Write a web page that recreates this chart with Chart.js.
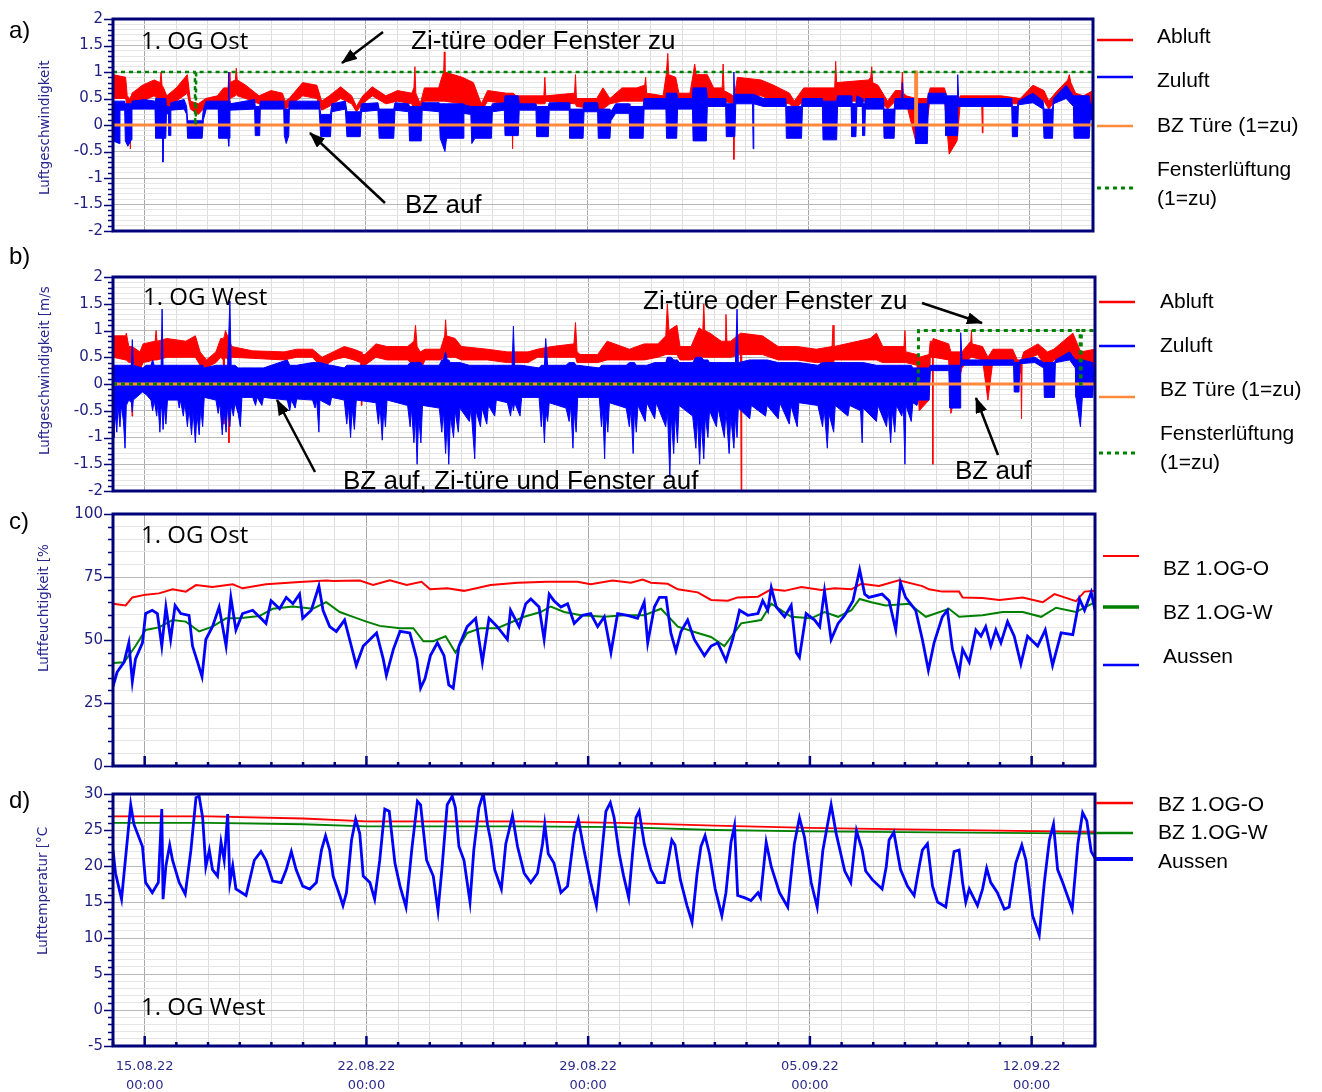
<!DOCTYPE html>
<html lang="de">
<head>
<meta charset="utf-8">
<title>Luftgeschwindigkeit, Luftfeuchtigkeit, Lufttemperatur</title>
<script src="https://cdn.jsdelivr.net/npm/chart.js"></script>
<style>
  html, body { margin: 0; padding: 0; background: #fff; }
  body { position: relative; width: 1322px; height: 1092px; overflow: hidden; font-family: "Liberation Sans", Arial, sans-serif; color: #000; }
  canvas { position: absolute; left: 0; z-index: 1; }
  #overlay { position: absolute; left: 0; top: 0; z-index: 2; }
  .t { position: absolute; white-space: nowrap; z-index: 3; }
  .panel { font-size: 24px; line-height: 28px; }
  .note { font-size: 26px; line-height: 30px; }
  .og { font-family: "Open Sans", sans-serif; font-size: 24px; line-height: 30px; }
  .leg { font-size: 21px; line-height: 24px; }
  .ytitle { font-family: "DejaVu Sans", sans-serif; font-size: 13.5px; line-height: 16px; color: #26268f; transform: rotate(-90deg); transform-origin: 0 0; }
</style>
</head>
<body>
<canvas id="chartA" width="1322" height="250" style="top:0px"></canvas>
<canvas id="chartB" width="1322" height="255" style="top:255px"></canvas>
<canvas id="chartC" width="1322" height="290" style="top:495px"></canvas>
<canvas id="chartD" width="1322" height="317" style="top:775px"></canvas>

<svg id="overlay" width="1322" height="1092">
  <defs>
    <marker id="head" markerUnits="userSpaceOnUse" markerWidth="16" markerHeight="12" refX="15" refY="6" orient="auto">
      <path d="M0,0 L16,6 L0,12 z" fill="#000"/>
    </marker>
  </defs>
  <g stroke="#000" stroke-width="2.5" marker-end="url(#head)">
    <line x1="383" y1="32" x2="342" y2="63"/>
    <line x1="385" y1="203" x2="310" y2="133"/>
    <line x1="922" y1="303" x2="982" y2="323"/>
    <line x1="315" y1="472" x2="277" y2="400"/>
    <line x1="998" y1="455" x2="976" y2="398"/>
  </g>
  <!-- legend samples -->
  <g stroke-width="2.5">
    <line x1="1097" y1="40" x2="1133" y2="40" stroke="#ff0000"/>
    <line x1="1097" y1="77" x2="1133" y2="77" stroke="#0000ff"/>
    <line x1="1097" y1="126" x2="1133" y2="126" stroke="#ff8a3c"/>
    <line x1="1097" y1="188" x2="1133" y2="188" stroke="#008000" stroke-width="3" stroke-dasharray="4 4"/>
    <line x1="1099" y1="302" x2="1135" y2="302" stroke="#ff0000"/>
    <line x1="1099" y1="346" x2="1135" y2="346" stroke="#0000ff"/>
    <line x1="1099" y1="397" x2="1135" y2="397" stroke="#ff8a3c"/>
    <line x1="1099" y1="453" x2="1135" y2="453" stroke="#008000" stroke-width="3" stroke-dasharray="4 4"/>
    <line x1="1103" y1="556" x2="1139" y2="556" stroke="#ff0000" stroke-width="2"/>
    <line x1="1103" y1="607" x2="1139" y2="607" stroke="#008000" stroke-width="3.5"/>
    <line x1="1103" y1="665" x2="1139" y2="665" stroke="#0000ff"/>
    <line x1="1096" y1="803" x2="1133" y2="803" stroke="#ff0000"/>
    <line x1="1096" y1="833" x2="1133" y2="833" stroke="#008000"/>
    <line x1="1096" y1="859" x2="1133" y2="859" stroke="#0000ff" stroke-width="4"/>
  </g>
</svg>

<div class="t panel" style="left:9px;top:16px">a)</div>
<div class="t panel" style="left:9px;top:242px">b)</div>
<div class="t panel" style="left:9px;top:507px">c)</div>
<div class="t panel" style="left:9px;top:786px">d)</div>

<div class="t ytitle" style="left:36px;top:195px">Luftgeschwindigkeit</div>
<div class="t ytitle" style="left:36px;top:455px">Luftgeschwindigkeit [m/s</div>
<div class="t ytitle" style="left:35px;top:672px">Luftfeuchtigkeit [%</div>
<div class="t ytitle" style="left:34px;top:955px">Lufttemperatur [°C</div>

<div class="t og" style="left:141px;top:25px">1. OG Ost</div>
<div class="t og" style="left:143px;top:281px">1. OG West</div>
<div class="t og" style="left:141px;top:519px">1. OG Ost</div>
<div class="t og" style="left:141px;top:991px">1. OG West</div>

<div class="t note" style="left:411px;top:25px">Zi-türe oder Fenster zu</div>
<div class="t note" style="left:405px;top:189px">BZ auf</div>
<div class="t note" style="left:643px;top:285px">Zi-türe oder Fenster zu</div>
<div class="t note" style="left:343px;top:465px">BZ auf, Zi-türe und Fenster auf</div>
<div class="t note" style="left:955px;top:455px">BZ auf</div>

<div class="t leg" style="left:1157px;top:24px">Abluft</div>
<div class="t leg" style="left:1157px;top:68px">Zuluft</div>
<div class="t leg" style="left:1157px;top:113px">BZ Türe (1=zu)</div>
<div class="t leg" style="left:1157px;top:157px">Fensterlüftung</div>
<div class="t leg" style="left:1157px;top:186px">(1=zu)</div>

<div class="t leg" style="left:1160px;top:289px">Abluft</div>
<div class="t leg" style="left:1160px;top:333px">Zuluft</div>
<div class="t leg" style="left:1160px;top:377px">BZ Türe (1=zu)</div>
<div class="t leg" style="left:1160px;top:421px">Fensterlüftung</div>
<div class="t leg" style="left:1160px;top:450px">(1=zu)</div>

<div class="t leg" style="left:1163px;top:556px">BZ 1.OG-O</div>
<div class="t leg" style="left:1163px;top:600px">BZ 1.OG-W</div>
<div class="t leg" style="left:1163px;top:644px">Aussen</div>

<div class="t leg" style="left:1158px;top:792px">BZ 1.OG-O</div>
<div class="t leg" style="left:1158px;top:820px">BZ 1.OG-W</div>
<div class="t leg" style="left:1158px;top:849px">Aussen</div>

<script>
// x axis = days since 14.08.22 00:00
const weekTicks = [1, 8, 15, 22, 29];
const weekLabels = ['15.08.22', '22.08.22', '29.08.22', '05.09.22', '12.09.22'];
const hourLabel = '00:00';

// a) 1. OG Ost, air speed bands [day, max, min] in m/s
const abluftA = [[0.00,0.95,0.50],[0.40,0.90,0.50],[0.45,0.55,0.35],[0.53,0.50,0.30],[0.55,0.50,-0.45],[0.57,0.55,0.30],[0.60,0.60,0.35],[0.93,0.75,0.45],[1.30,0.85,0.55],[1.49,0.80,0.45],[1.52,1.00,0.45],[1.55,0.75,0.40],[1.60,0.70,0.30],[1.70,0.55,0.30],[2.00,0.70,0.45],[2.35,0.95,0.60],[2.45,0.45,0.30],[2.70,0.40,0.20],[2.93,0.50,0.35],[3.30,0.55,0.40],[3.50,0.70,0.40],[3.64,0.70,0.40],[3.67,1.00,0.40],[3.70,0.80,0.50],[3.87,0.85,0.55],[3.90,1.07,0.60],[3.93,0.85,0.55],[4.20,0.75,0.50],[4.62,0.55,0.40],[5.00,0.65,0.45],[5.36,0.60,0.42],[5.45,0.45,0.30],[5.57,0.50,0.35],[6.00,0.80,0.55],[6.45,0.75,0.50],[6.60,0.45,0.28],[6.84,0.55,0.35],[7.20,0.72,0.50],[7.55,0.55,0.40],[7.70,0.35,0.25],[7.90,0.55,0.40],[8.20,0.72,0.55],[8.63,0.55,0.40],[9.00,0.65,0.45],[9.45,0.60,0.40],[9.52,0.70,0.30],[9.55,1.10,0.30],[9.58,0.60,0.25],[9.72,0.40,0.20],[9.85,0.70,0.45],[10.30,0.70,0.45],[10.40,0.90,0.45],[10.46,1.00,0.45],[10.48,1.38,0.45],[10.50,1.00,0.45],[11.05,0.90,0.40],[11.40,0.80,0.30],[11.65,0.40,0.25],[11.85,0.65,0.45],[12.45,0.60,0.40],[12.62,0.60,0.35],[12.64,0.60,-0.45],[12.66,0.60,0.35],[12.75,0.55,0.40],[13.63,0.55,0.40],[13.66,0.90,0.40],[13.69,0.55,0.45],[14.60,0.60,0.40],[14.63,0.95,0.40],[14.66,0.50,0.35],[15.30,0.50,0.30],[15.50,0.70,0.30],[15.72,0.50,0.40],[16.10,0.70,0.45],[16.56,0.70,0.45],[16.82,0.75,0.45],[16.85,0.90,0.45],[16.88,0.60,0.45],[17.40,0.55,0.45],[17.50,0.95,0.45],[17.55,1.35,0.45],[17.58,0.95,0.45],[17.80,0.90,0.45],[17.90,0.60,0.45],[18.25,0.60,0.45],[18.35,0.95,0.50],[18.40,1.15,0.50],[18.45,0.95,0.50],[18.80,0.95,0.50],[19.00,0.70,0.50],[19.27,0.70,0.45],[19.30,1.15,0.45],[19.33,0.65,0.45],[19.62,0.55,0.40],[19.64,0.55,-0.65],[19.66,0.55,0.40],[19.75,0.90,0.55],[20.50,0.85,0.55],[20.90,0.75,0.45],[21.40,0.60,0.40],[21.55,0.45,0.30],[21.85,0.70,0.45],[22.83,0.70,0.45],[22.86,1.20,0.45],[22.89,0.80,0.45],[23.90,0.85,0.45],[23.97,0.90,0.50],[24.00,1.10,0.50],[24.03,0.80,0.50],[24.20,0.75,0.50],[24.50,0.45,0.30],[24.75,0.65,0.45],[24.94,0.65,0.45],[24.97,1.00,0.45],[25.00,0.60,0.40],[25.10,0.55,0.40],[25.39,0.50,-0.30],[25.76,0.50,0.10],[25.85,0.70,0.50],[26.30,0.70,0.50],[26.45,0.40,-0.55],[26.70,0.40,-0.30],[26.80,0.55,0.40],[27.48,0.55,0.40],[27.50,0.55,-0.15],[27.52,0.55,0.40],[28.10,0.55,0.40],[28.70,0.50,0.40],[29.10,0.75,0.50],[29.45,0.65,0.45],[29.60,0.45,0.30],[29.80,0.60,0.45],[30.20,0.85,0.55],[30.25,0.95,0.55],[30.30,0.80,0.55],[30.45,0.60,0.30],[30.70,0.55,0.20],[31.00,0.65,0.45]];
const zuluftA = [[0.00,0.45,-0.30],[0.20,0.45,-0.35],[0.22,0.45,0.28],[0.37,0.45,0.28],[0.39,0.40,-0.30],[0.47,0.40,-0.40],[0.58,0.40,-0.28],[0.60,0.45,0.30],[1.00,0.48,0.30],[1.33,0.45,0.30],[1.35,0.50,-0.25],[1.57,0.50,-0.25],[1.58,0.50,-0.70],[1.60,0.50,-0.25],[1.67,0.50,-0.25],[1.69,0.35,0.22],[1.76,0.35,0.20],[1.77,0.35,-0.20],[1.82,0.35,-0.20],[1.83,0.42,0.28],[2.25,0.48,0.30],[2.33,0.35,0.20],[2.36,0.08,-0.25],[2.82,0.08,-0.25],[2.86,0.30,0.10],[2.95,0.45,0.30],[3.33,0.45,0.30],[3.35,0.45,-0.25],[3.64,0.45,-0.25],[3.66,1.00,-0.40],[3.67,0.45,-0.25],[3.70,0.40,0.28],[4.48,0.48,0.30],[4.50,0.35,-0.20],[4.64,0.35,-0.20],[4.66,0.45,0.30],[5.40,0.45,0.30],[5.42,0.30,-0.20],[5.48,0.30,-0.35],[5.56,0.30,-0.20],[5.58,0.45,0.30],[6.52,0.45,0.30],[6.57,0.20,-0.22],[6.88,0.20,-0.22],[6.92,0.40,0.25],[7.35,0.45,0.30],[7.40,0.25,-0.22],[7.82,0.25,-0.22],[7.86,0.40,0.25],[8.38,0.42,0.28],[8.42,0.30,-0.25],[8.88,0.30,-0.25],[8.92,0.42,0.28],[9.35,0.40,0.25],[9.38,0.35,-0.30],[9.75,0.35,-0.30],[9.78,0.42,0.28],[10.32,0.42,0.25],[10.35,0.40,-0.25],[10.50,0.40,-0.50],[10.55,0.40,-0.25],[11.08,0.40,-0.25],[11.10,0.38,0.22],[11.32,0.35,0.20],[11.35,0.35,-0.35],[11.45,0.35,-0.25],[11.97,0.35,-0.25],[12.00,0.40,0.25],[12.38,0.42,0.28],[12.40,0.55,-0.20],[12.82,0.55,-0.20],[12.85,0.40,0.28],[13.38,0.40,0.28],[13.40,0.35,-0.22],[13.77,0.35,-0.22],[13.80,0.42,0.28],[14.43,0.42,0.28],[14.45,0.30,-0.25],[14.87,0.30,-0.25],[14.90,0.42,0.25],[15.33,0.42,0.25],[15.35,0.30,-0.25],[15.72,0.30,-0.25],[15.75,0.25,0.08],[15.90,0.40,0.22],[16.33,0.40,0.22],[16.35,0.35,-0.25],[16.77,0.35,-0.25],[16.80,0.50,0.30],[17.49,0.50,0.30],[17.51,0.60,-0.25],[17.83,0.60,-0.25],[17.86,0.50,0.30],[18.33,0.50,0.30],[18.35,0.70,-0.30],[18.77,0.70,-0.30],[18.80,0.50,0.35],[19.38,0.50,0.35],[19.40,0.40,-0.22],[19.62,0.40,-0.22],[19.64,1.00,-0.22],[19.67,0.40,-0.22],[19.70,0.58,0.40],[20.23,0.58,0.40],[20.25,0.58,-0.45],[20.27,0.58,0.40],[20.57,0.50,0.35],[21.28,0.50,0.35],[21.30,0.35,-0.25],[21.78,0.35,-0.25],[21.81,0.50,0.35],[22.44,0.50,0.35],[22.46,0.45,-0.28],[22.89,0.45,-0.28],[22.92,0.55,0.35],[23.35,0.55,0.35],[23.37,0.40,-0.22],[23.50,0.40,-0.22],[23.53,0.55,0.35],[23.70,0.50,0.35],[23.72,0.40,-0.20],[23.78,0.40,-0.20],[23.80,0.50,0.30],[24.37,0.50,0.30],[24.39,0.30,-0.25],[24.71,0.30,-0.25],[24.74,0.50,0.30],[24.95,0.50,0.30],[24.97,0.80,0.30],[24.99,0.50,0.30],[25.37,0.50,0.30],[25.39,0.40,-0.35],[25.76,0.40,-0.35],[25.79,0.60,0.40],[26.32,0.60,0.40],[26.34,0.55,-0.20],[26.70,0.55,-0.20],[26.72,0.95,0.35],[26.75,0.50,0.35],[28.43,0.50,0.35],[28.45,0.35,-0.22],[28.61,0.35,-0.22],[28.64,0.45,0.38],[29.10,0.60,0.42],[29.42,0.45,0.30],[29.45,0.30,-0.25],[29.72,0.30,-0.25],[29.75,0.50,0.40],[30.15,0.75,0.50],[30.38,0.55,0.35],[30.40,0.55,-0.25],[30.88,0.55,-0.25],[30.91,0.40,0.10],[31.00,0.40,0.10]];
const tuerA = [[0,0],[25.38,0],[25.39,1],[25.41,1],[25.42,0],[31,0]];
const fensterA = [[0,1],[2.59,1],[2.60,0],[2.62,0],[2.63,1],[31,1]];

// b) 1. OG West
const abluftB = [[0.00,0.90,0.50],[0.40,0.90,0.45],[0.42,0.95,0.45],[0.50,0.70,0.40],[0.58,0.70,0.40],[0.60,0.70,-0.60],[0.62,0.70,0.40],[0.85,0.60,0.25],[0.95,0.75,0.40],[1.33,0.80,0.45],[1.36,1.00,0.45],[1.39,0.80,0.45],[1.70,0.85,0.50],[2.30,0.80,0.50],[2.60,0.90,0.50],[2.75,0.60,0.35],[2.95,0.45,0.30],[3.25,0.60,0.40],[3.40,0.85,0.50],[3.48,0.85,0.45],[3.50,0.85,-0.75],[3.52,0.90,0.45],[3.55,1.00,0.50],[3.64,0.85,0.45],[3.66,0.85,-1.10],[3.68,0.80,0.45],[3.75,0.70,0.50],[4.40,0.62,0.48],[5.40,0.60,0.45],[5.80,0.65,0.50],[6.30,0.65,0.50],[6.60,0.50,0.30],[6.95,0.60,0.45],[7.30,0.70,0.50],[7.60,0.65,0.45],[7.82,0.60,0.40],[7.84,0.60,-0.40],[7.86,0.55,0.35],[7.95,0.55,0.35],[8.30,0.75,0.50],[8.65,0.70,0.45],[9.30,0.70,0.45],[9.50,0.80,0.35],[9.55,1.10,0.30],[9.60,0.70,0.20],[9.70,0.60,0.25],[9.85,0.65,0.45],[10.34,0.65,0.45],[10.47,0.90,0.50],[10.50,1.20,0.50],[10.53,0.90,0.50],[10.80,0.85,0.50],[11.00,0.70,0.45],[11.82,0.65,0.45],[12.45,0.60,0.40],[13.10,0.60,0.40],[13.40,0.65,0.50],[13.85,0.70,0.50],[14.55,0.75,0.50],[14.60,1.15,0.50],[14.65,0.60,0.40],[14.75,0.55,0.40],[15.30,0.55,0.40],[15.60,0.80,0.45],[16.30,0.65,0.45],[16.77,0.75,0.45],[17.20,0.75,0.50],[17.45,0.90,0.55],[17.50,1.50,0.55],[17.55,1.00,0.55],[17.80,1.10,0.55],[17.90,0.70,0.45],[18.25,0.70,0.45],[18.50,1.05,0.50],[18.62,1.00,0.50],[18.65,1.50,0.50],[18.68,1.00,0.50],[18.85,0.95,0.50],[19.20,0.80,0.50],[19.32,0.80,0.50],[19.35,1.30,0.50],[19.38,0.80,0.50],[19.50,0.80,0.50],[19.81,0.95,0.55],[19.83,0.95,-2.00],[19.85,0.95,0.55],[20.50,0.90,0.55],[21.00,0.70,0.45],[21.60,0.70,0.45],[22.20,0.65,0.40],[22.70,0.70,0.40],[22.73,1.10,0.40],[22.76,0.70,0.45],[23.90,0.85,0.45],[24.10,0.95,0.45],[24.30,0.70,0.40],[24.97,0.70,0.40],[25.00,1.00,0.40],[25.03,0.60,0.40],[25.38,0.55,0.35],[25.45,0.50,-0.50],[25.76,0.55,-0.30],[25.80,0.80,0.50],[25.87,0.80,0.50],[25.88,0.80,-1.50],[25.89,0.85,0.50],[26.38,0.75,0.45],[26.45,0.60,-0.55],[26.80,0.60,0.30],[27.08,0.80,0.50],[27.10,1.00,0.50],[27.12,0.75,0.50],[27.45,0.70,0.45],[27.62,0.50,-0.30],[27.78,0.65,0.45],[28.40,0.65,0.45],[28.55,0.45,0.20],[28.66,0.45,0.20],[28.68,0.45,-0.65],[28.70,0.50,0.40],[28.75,0.60,0.45],[29.20,0.75,0.55],[29.50,0.60,0.25],[29.70,0.65,0.45],[30.30,0.95,0.55],[30.55,0.60,0.20],[31.00,0.65,0.30]];
const zuluftB = [[0.00,0.35,-0.60],[0.03,0.35,-1.00],[0.06,0.35,-0.50],[0.12,0.35,-0.90],[0.16,0.35,-0.40],[0.22,0.35,-0.80],[0.26,0.35,-0.40],[0.33,0.35,-0.70],[0.38,0.35,-1.20],[0.42,0.35,-0.40],[0.50,0.35,-0.30],[0.58,0.35,-0.35],[0.61,0.83,-0.52],[0.64,0.35,-0.30],[0.93,0.30,-0.15],[1.05,0.35,-0.20],[1.20,0.35,-0.30],[1.25,0.45,-0.50],[1.30,0.35,-0.30],[1.38,0.35,-0.60],[1.42,0.35,-0.35],[1.48,0.35,-0.90],[1.52,0.35,-0.40],[1.55,1.40,-0.50],[1.58,0.35,-0.85],[1.63,0.35,-0.40],[1.67,0.35,-0.75],[1.72,0.35,-0.30],[2.05,0.35,-0.30],[2.09,0.35,-0.45],[2.13,0.35,-0.30],[2.22,0.35,-0.60],[2.27,0.35,-0.35],[2.35,0.35,-0.80],[2.40,0.35,-0.45],[2.48,0.35,-0.95],[2.53,0.35,-0.50],[2.60,0.35,-1.10],[2.65,0.35,-0.55],[2.72,0.35,-0.95],[2.77,0.35,-0.45],[2.83,0.35,-0.80],[2.88,0.30,-0.25],[3.25,0.35,-0.30],[3.32,0.35,-0.55],[3.37,0.35,-0.35],[3.45,0.35,-0.95],[3.50,0.35,-0.45],[3.57,0.35,-0.90],[3.62,0.35,-0.40],[3.69,1.55,-0.80],[3.73,0.35,-0.40],[3.80,0.35,-0.60],[3.85,0.35,-0.35],[3.95,0.30,-0.55],[4.02,0.30,-0.80],[4.07,0.30,-0.25],[4.41,0.30,-0.25],[4.50,0.30,-0.40],[4.55,0.30,-0.25],[4.70,0.30,-0.40],[4.75,0.30,-0.25],[5.50,0.45,-0.30],[5.58,0.35,-0.50],[5.63,0.35,-0.30],[5.75,0.35,-0.45],[5.80,0.35,-0.28],[6.30,0.40,-0.30],[6.38,0.40,-0.45],[6.43,0.40,-0.30],[6.50,0.40,-0.90],[6.53,0.40,-0.30],[6.85,0.35,-0.40],[6.90,0.35,-0.25],[7.30,0.30,-0.30],[7.38,0.35,-0.75],[7.43,0.35,-0.40],[7.50,0.35,-1.00],[7.55,0.35,-0.45],[7.62,0.35,-0.85],[7.68,0.35,-0.30],[8.30,0.35,-0.35],[8.38,0.35,-0.75],[8.43,0.35,-0.40],[8.50,0.35,-1.05],[8.55,0.35,-0.45],[8.60,0.35,-0.80],[8.65,0.35,-0.30],[9.30,0.35,-0.40],[9.38,0.40,-0.80],[9.42,0.40,-0.45],[9.50,0.40,-1.10],[9.55,0.40,-0.60],[9.60,0.40,-1.50],[9.65,0.40,-0.60],[9.72,0.40,-1.10],[9.77,0.35,-0.40],[10.30,0.35,-0.45],[10.38,0.45,-0.90],[10.43,0.45,-0.50],[10.50,0.60,-1.30],[10.55,0.45,-0.70],[10.60,0.45,-1.50],[10.65,0.40,-0.60],[10.75,0.40,-1.00],[10.80,0.40,-0.50],[10.90,0.40,-0.90],[10.95,0.40,-0.45],[11.25,0.35,-0.70],[11.30,0.35,-0.45],[11.42,0.35,-1.40],[11.46,0.35,-0.50],[11.60,0.35,-0.80],[11.65,0.35,-0.45],[11.80,0.35,-0.75],[11.85,0.35,-0.40],[12.05,0.35,-0.60],[12.10,0.35,-0.30],[12.45,0.35,-0.35],[12.55,0.35,-0.60],[12.60,0.35,-0.35],[12.64,1.08,-0.50],[12.68,0.35,-0.35],[12.85,0.35,-0.60],[12.90,0.35,-0.25],[13.45,0.30,-0.25],[13.52,0.35,-0.80],[13.56,0.35,-0.40],[13.62,0.35,-1.10],[13.66,0.85,-0.50],[13.72,0.35,-0.70],[13.77,0.35,-0.35],[14.30,0.35,-0.45],[14.40,0.40,-0.70],[14.45,0.40,-0.40],[14.52,0.40,-1.20],[14.56,0.40,-0.50],[14.62,0.35,-0.90],[14.67,0.35,-0.25],[15.35,0.30,-0.25],[15.42,0.35,-0.80],[15.46,0.35,-0.45],[15.52,0.35,-1.40],[15.56,0.35,-0.50],[15.62,0.35,-0.90],[15.67,0.35,-0.35],[16.20,0.35,-0.45],[16.30,0.40,-0.80],[16.35,0.40,-0.45],[16.42,0.40,-1.30],[16.46,0.40,-0.50],[16.52,0.35,-0.90],[16.57,0.35,-0.40],[16.80,0.35,-0.70],[16.85,0.35,-0.35],[17.10,0.40,-0.65],[17.15,0.40,-0.35],[17.45,0.40,-0.80],[17.50,0.50,-0.45],[17.58,0.50,-1.75],[17.62,0.50,-0.60],[17.70,0.45,-1.30],[17.75,0.45,-0.55],[17.82,0.45,-1.10],[17.87,0.40,-0.40],[18.30,0.40,-0.60],[18.40,0.50,-1.20],[18.45,0.50,-0.60],[18.52,0.50,-1.50],[18.57,0.50,-0.70],[18.65,0.45,-1.40],[18.70,0.45,-0.60],[18.78,0.45,-1.00],[18.83,0.40,-0.50],[19.05,0.40,-0.80],[19.10,0.40,-0.45],[19.30,0.40,-1.00],[19.35,0.40,-0.50],[19.45,0.40,-1.30],[19.50,0.40,-0.60],[19.60,0.40,-1.20],[19.65,0.40,-0.60],[19.70,1.40,-1.00],[19.74,0.40,-0.45],[20.10,0.45,-0.65],[20.15,0.45,-0.40],[20.60,0.45,-0.60],[20.65,0.45,-0.40],[21.00,0.40,-0.65],[21.05,0.40,-0.35],[21.35,0.40,-0.75],[21.40,0.40,-0.40],[21.60,0.40,-0.80],[21.65,0.40,-0.35],[22.25,0.35,-0.40],[22.40,0.40,-0.80],[22.45,0.40,-0.45],[22.55,0.40,-1.20],[22.60,0.40,-0.55],[22.75,0.40,-0.90],[22.80,0.40,-0.40],[23.20,0.40,-0.60],[23.25,0.40,-0.40],[23.60,0.40,-0.50],[23.65,0.40,-1.10],[23.68,0.40,-0.45],[24.10,0.35,-0.70],[24.15,0.35,-0.40],[24.42,0.35,-0.80],[24.47,0.35,-0.45],[24.55,0.35,-1.10],[24.60,0.35,-0.50],[24.68,0.35,-0.90],[24.73,0.35,-0.40],[24.90,0.35,-0.60],[24.95,0.35,-0.40],[25.00,0.35,-1.50],[25.03,0.35,-0.40],[25.20,0.35,-0.70],[25.25,0.30,-0.35],[25.38,0.30,-0.40],[25.42,0.30,-0.30],[25.76,0.30,-0.30],[25.80,0.35,0.25],[26.39,0.35,0.25],[26.41,0.35,-0.45],[26.74,0.35,-0.45],[26.76,0.96,0.30],[26.80,0.45,0.35],[28.43,0.45,0.35],[28.45,0.40,-0.15],[28.60,0.40,-0.15],[28.63,0.45,0.38],[29.10,0.50,0.40],[29.38,0.40,0.30],[29.40,0.40,-0.25],[29.72,0.40,-0.25],[29.75,0.45,0.40],[30.20,0.60,0.45],[30.38,0.45,0.30],[30.40,0.45,-0.25],[30.54,0.45,-0.80],[30.60,0.45,-0.25],[30.93,0.40,-0.25],[30.95,0.25,0.05],[31.00,0.25,0.05]];
const tuerB = [[0,0],[31,0]];
const fensterB = [[0,0],[25.42,0],[25.43,1],[30.53,1],[30.54,0],[30.56,0],[30.57,1],[31,1]];

// c) relative humidity in %
const feuchteO = [[0,64.4],[0.40,63.7],[0.61,66.9],[1.03,68.0],[1.45,68.5],[1.88,70.1],[2.30,69.2],[2.62,71.8],[3.14,71.0],[3.78,72.1],[4.09,70.5],[4.83,72.1],[5.89,73.0],[6.73,73.6],[6.95,73.4],[7.79,73.6],[8.21,71.8],[8.74,73.7],[9.27,71.8],[9.74,73.1],[10.01,70.1],[10.55,70.5],[11.08,69.5],[11.92,71.8],[12.77,72.7],[13.71,73.1],[14.66,73.1],[15.08,72.1],[15.77,73.6],[16.35,72.7],[16.72,74.0],[16.98,72.7],[17.51,72.3],[17.83,70.1],[18.46,68.9],[18.88,65.9],[19.41,65.6],[19.72,66.9],[20.36,67.2],[20.78,70.1],[21.20,69.5],[21.73,71.0],[22.36,69.8],[22.78,70.5],[23.31,70.1],[23.62,72.3],[24.18,71.4],[24.81,73.7],[25.55,71.4],[25.76,70.1],[26.18,69.2],[26.71,69.2],[26.82,66.9],[27.45,66.7],[27.98,65.9],[28.72,66.9],[29.35,65.0],[29.72,68.2],[30.40,65.4],[30.67,69.2],[31.0,69.5]];
const feuchteW = [[0,40.9],[0.35,41.2],[0.71,47.6],[1.03,54.0],[1.45,55.0],[1.88,57.9],[2.30,57.3],[2.72,53.4],[3.14,55.3],[3.57,58.6],[3.99,58.6],[4.62,59.5],[5.04,62.4],[5.68,63.3],[6.31,62.4],[6.73,65.0],[7.16,61.1],[7.58,59.2],[8.00,57.3],[8.42,55.6],[9.06,54.7],[9.48,54.7],[9.80,49.5],[10.11,49.5],[10.50,51.5],[10.81,45.0],[11.18,52.8],[11.61,54.7],[12.13,54.7],[12.98,59.2],[13.50,61.1],[13.82,63.3],[14.24,61.1],[14.77,59.8],[15.51,59.2],[16.14,59.8],[16.77,59.8],[17.30,62.4],[17.83,55.3],[18.46,52.8],[18.88,51.2],[19.30,47.6],[19.83,56.6],[20.46,57.9],[20.78,64.4],[21.41,59.2],[22.04,58.6],[22.46,61.1],[22.89,59.2],[23.31,61.8],[23.57,66.3],[23.94,65.0],[24.39,63.7],[25.13,64.4],[25.66,59.2],[26.39,62.4],[26.71,59.2],[27.45,59.8],[28.08,61.1],[28.72,61.1],[29.30,59.2],[29.77,62.8],[30.40,61.1],[31.0,65.0]];
const feuchteAussen = [[0,31.5],[0.13,37.3],[0.35,41.2],[0.50,48.9],[0.61,33.5],[0.71,42.5],[0.93,48.9],[1.03,60.5],[1.24,61.8],[1.40,60.5],[1.54,47.6],[1.67,63.1],[1.82,50.2],[1.96,63.7],[2.14,60.5],[2.40,59.8],[2.51,47.6],[2.67,41.2],[2.81,35.4],[2.93,50.2],[3.14,55.3],[3.35,63.1],[3.57,47.6],[3.72,66.9],[3.88,54.0],[4.09,60.5],[4.41,61.8],[4.62,59.2],[4.83,56.6],[4.99,65.6],[5.26,62.4],[5.47,66.9],[5.68,64.4],[5.89,68.2],[5.99,58.6],[6.26,61.8],[6.50,71.4],[6.63,61.8],[6.84,55.3],[7.05,53.4],[7.31,57.9],[7.47,50.2],[7.68,39.9],[7.90,47.6],[8.11,50.2],[8.32,52.8],[8.53,42.5],[8.63,36.0],[8.85,46.3],[9.06,53.4],[9.37,52.8],[9.59,42.5],[9.71,30.9],[9.85,34.7],[10.02,43.8],[10.24,48.9],[10.45,43.8],[10.60,32.2],[10.74,30.9],[10.92,47.6],[11.18,55.3],[11.45,58.6],[11.66,41.2],[11.87,58.6],[12.13,55.3],[12.45,50.2],[12.55,61.8],[12.82,55.3],[13.03,64.4],[13.19,66.3],[13.45,63.1],[13.61,50.2],[13.77,68.2],[13.92,65.6],[14.14,63.1],[14.35,64.4],[14.56,56.6],[14.82,59.8],[15.08,60.5],[15.30,55.3],[15.51,59.2],[15.72,45.0],[15.93,60.5],[16.24,59.8],[16.56,58.6],[16.77,65.0],[16.88,48.9],[17.09,63.1],[17.25,66.9],[17.46,66.9],[17.61,52.8],[17.77,45.7],[17.93,53.4],[18.14,57.9],[18.35,50.2],[18.67,43.8],[18.88,47.6],[19.09,48.9],[19.35,41.8],[19.56,50.2],[19.78,61.8],[20.04,59.8],[20.36,60.5],[20.51,65.6],[20.67,61.8],[20.78,70.8],[20.94,63.1],[21.20,59.2],[21.41,63.7],[21.57,45.0],[21.67,43.1],[21.88,60.5],[22.15,57.9],[22.31,55.3],[22.46,69.5],[22.67,50.2],[22.89,56.6],[23.10,59.8],[23.36,65.6],[23.57,77.9],[23.73,68.2],[23.86,66.9],[24.28,68.2],[24.50,65.6],[24.71,54.0],[24.86,72.7],[25.02,66.9],[25.34,61.8],[25.55,50.2],[25.74,38.0],[25.92,48.9],[26.18,59.2],[26.34,61.8],[26.50,46.3],[26.71,36.7],[26.82,46.3],[27.03,41.2],[27.24,54.0],[27.40,51.5],[27.55,55.3],[27.71,47.6],[27.87,54.0],[28.03,48.9],[28.24,57.3],[28.45,51.5],[28.66,40.5],[28.87,51.5],[29.19,47.6],[29.43,54.0],[29.66,39.9],[29.93,52.8],[30.30,52.1],[30.51,66.3],[30.67,61.8],[30.88,68.9],[31.0,61.8]];

// d) air temperature in °C
const tempO = [[0,26.9],[3,26.9],[6,26.6],[8,26.2],[10,26.2],[13,26.2],[16,26.0],[19,25.6],[22,25.3],[25,25.1],[28,24.9],[31,24.7]];
const tempW = [[0,26.0],[3,26.0],[6,25.8],[8,25.5],[10,25.5],[13,25.5],[16,25.4],[19,25.0],[22,24.8],[25,24.7],[28,24.6],[31,24.5]];
const tempAussen = [[0,22.2],[0.08,19],[0.27,15.4],[0.56,28.5],[0.66,25.8],[0.93,22.7],[1.03,17.7],[1.24,16.3],[1.43,17.7],[1.54,27.9],[1.58,15.4],[1.67,20],[1.79,22.9],[1.88,20.8],[2.09,17.7],[2.28,16.1],[2.46,22.2],[2.62,29.5],[2.72,29.7],[2.83,26.7],[2.93,19.9],[3.04,22.2],[3.14,19.5],[3.30,18.6],[3.41,23.3],[3.51,20.8],[3.62,27.2],[3.69,17.7],[3.78,20],[3.88,16.8],[4.20,15.9],[4.46,20.8],[4.67,22],[4.83,20.8],[5.04,17.9],[5.31,17.7],[5.47,19.5],[5.63,22],[5.78,19.5],[5.99,17.2],[6.21,16.8],[6.42,17.7],[6.58,22.2],[6.71,24.2],[6.84,22.2],[6.95,18.6],[7.16,15.9],[7.26,14.5],[7.37,16.3],[7.53,23.6],[7.66,26.5],[7.79,24.5],[7.90,18.6],[8.11,17.7],[8.26,15.4],[8.42,20.8],[8.58,27.9],[8.72,27.6],[8.90,20.4],[9.06,17.2],[9.25,14.3],[9.43,22.2],[9.61,29],[9.71,28.5],[9.90,20.8],[10.11,18.6],[10.26,13.8],[10.39,19.9],[10.55,28.5],[10.71,29.7],[10.81,28.1],[10.92,22.7],[11.08,20.8],[11.27,15],[11.39,22.2],[11.55,28.1],[11.69,30.1],[11.82,25.8],[11.92,23.6],[12.05,19.5],[12.26,16.8],[12.40,23.1],[12.50,24.9],[12.61,27],[12.77,22.7],[12.98,19],[13.19,17.7],[13.40,19],[13.56,23.1],[13.63,25.8],[13.74,21.7],[13.92,20.4],[14.14,16.3],[14.35,17.2],[14.56,24.5],[14.69,26.5],[14.87,22.2],[15.08,17.7],[15.26,14.5],[15.40,20.4],[15.56,27.6],[15.70,28.8],[15.82,26.7],[15.98,21.7],[16.12,18.6],[16.28,15.6],[16.40,21.7],[16.51,26.7],[16.61,27.6],[16.77,23.1],[16.98,19.5],[17.19,17.7],[17.40,17.7],[17.53,20.8],[17.64,23.6],[17.74,22.9],[17.91,18.1],[18.12,14.5],[18.28,12.2],[18.44,19],[18.56,22.7],[18.69,24.2],[18.83,21.7],[19.01,16.8],[19.22,13.1],[19.35,16.3],[19.51,23.3],[19.62,25.6],[19.72,15.9],[19.93,15.6],[20.14,15.2],[20.36,16.3],[20.44,15.6],[20.62,23.3],[20.78,19.9],[21.04,16.3],[21.30,14.3],[21.51,23.1],[21.67,26.7],[21.83,24],[22.04,17.7],[22.23,14.3],[22.41,22.2],[22.67,28.5],[22.83,24.5],[23.10,19.3],[23.29,17.7],[23.47,24.9],[23.65,22.2],[23.76,19.3],[23.97,18.1],[24.28,16.8],[24.41,19.9],[24.50,23.6],[24.65,24.7],[24.86,19.5],[25.08,17.2],[25.29,15.9],[25.47,20.4],[25.55,22.2],[25.71,23.1],[25.87,17.2],[26.03,15],[26.29,14.3],[26.45,19],[26.55,22],[26.71,22.2],[26.82,17.7],[26.92,15],[27.03,16.8],[27.29,14.5],[27.45,16.8],[27.58,19.7],[27.71,17.7],[27.92,16.3],[28.14,14],[28.29,14.3],[28.50,20.4],[28.69,22.9],[28.82,20.8],[29.03,13.1],[29.24,10.4],[29.40,17.7],[29.56,23.6],[29.69,25.8],[29.82,19.5],[29.98,17.7],[30.28,14],[30.46,23.1],[30.61,27.4],[30.74,26.3],[30.88,22],[31,21.1]];

const RED = '#ff0000', BLUE = '#0000ff', GREEN = '#008000', ORANGE = '#ff8a3c', NAVY = '#00007a';
const TICK_COLOR = '#1e1e80';

const line = (rows, col = 1) => rows.map(r => ({ x: r[0], y: r[col] }));

function isMajor(v, step) {
    const q = v / step;
    return Math.abs(q - Math.round(q)) < 1e-6;
}

// plot frame, left tick comb and (optional) inner bottom ticks
const framePlugin = {
    id: 'frame',
    afterDraw(chart, args, opts) {
        const { ctx, chartArea: a, scales: { x, y } } = chart;
        ctx.save();
        ctx.strokeStyle = NAVY;
        ctx.lineWidth = 1.5;
        y.ticks.forEach(t => {
            const py = Math.round(y.getPixelForValue(t.value)) + 0.5;
            const len = isMajor(t.value, opts.yMajor) ? 9 : 5;
            ctx.beginPath();
            ctx.moveTo(a.left - len, py);
            ctx.lineTo(a.left, py);
            ctx.stroke();
        });
        if (opts.bottomTicks) {
            ctx.lineWidth = 2.5;
            x.ticks.forEach(t => {
                const px = x.getPixelForValue(t.value);
                const len = weekTicks.includes(t.value) ? 10 : 4;
                ctx.beginPath();
                ctx.moveTo(px, a.bottom);
                ctx.lineTo(px, a.bottom - len);
                ctx.stroke();
            });
        }
        ctx.lineWidth = 3;
        ctx.strokeRect(a.left, a.top, a.right - a.left, a.bottom - a.top);
        ctx.restore();
    }
};

function band(label, rows, color, maxIndex, order) {
    return [
        { label: label + ' max', data: line(rows, 1), borderColor: color, borderWidth: 1, fill: false, order },
        { label: label + ' min', data: line(rows, 2), borderColor: color, borderWidth: 1, backgroundColor: color, fill: maxIndex, order }
    ];
}

function makeChart(id, datasets, o) {
    return new Chart(document.getElementById(id), {
        type: 'line',
        data: { datasets },
        options: {
            responsive: false,
            animation: false,
            devicePixelRatio: 1,
            layout: { padding: { top: o.top, right: o.right, left: 0, bottom: 0 } },
            elements: { point: { radius: 0 }, line: { tension: 0 } },
            plugins: {
                legend: { display: false },
                tooltip: { enabled: false },
                frame: { yMajor: o.yMajor, bottomTicks: o.bottomTicks }
            },
            scales: {
                x: {
                    type: 'linear', min: 0, max: 31,
                    afterFit: s => { s.height = o.xHeight; },
                    border: { display: false },
                    grid: {
                        drawTicks: false,
                        color: c => (c.tick && weekTicks.includes(c.tick.value)) ? '#a8a8a8' : '#dedede'
                    },
                    ticks: {
                        stepSize: 1, autoSkip: false, maxRotation: 0, minRotation: 0,
                        display: !!o.xLabels, padding: 11, color: '#2b2b8c',
                        font: { family: 'DejaVu Sans', size: 13, lineHeight: 1.45 },
                        callback: v => {
                            const i = weekTicks.indexOf(v);
                            return i >= 0 ? [weekLabels[i], hourLabel] : '';
                        }
                    }
                },
                y: {
                    min: o.yMin, max: o.yMax,
                    afterFit: s => { s.width = 113; },
                    border: { display: false },
                    grid: {
                        drawTicks: false,
                        color: c => (c.tick && isMajor(c.tick.value, o.yMajor)) ? '#b8b8b8' : '#e6e6e6'
                    },
                    ticks: {
                        stepSize: o.yStep, autoSkip: false, padding: 10, color: TICK_COLOR,
                        font: { family: 'DejaVu Sans', size: 15 },
                        callback: v => isMajor(v, o.yMajor) ? String(Math.round(v * 10) / 10) : ''
                    }
                }
            }
        },
        plugins: [framePlugin]
    });
}

const speedOpts = { yMin: -2, yMax: 2, yStep: 0.1, yMajor: 0.5, xHeight: 18 };

makeChart('chartA', [
    { label: 'Fensterlüftung (1=zu)', data: line(fensterA), borderColor: GREEN, borderWidth: 2.5, borderDash: [4, 4], order: 0 },
    { label: 'BZ Türe (1=zu)', data: line(tuerA), borderColor: ORANGE, borderWidth: 3, order: 1 },
    ...band('Zuluft', zuluftA, BLUE, 2, 2),
    ...band('Abluft', abluftA, RED, 4, 3)
], { ...speedOpts, top: 17, right: 1322 - 1093 });

makeChart('chartB', [
    { label: 'Fensterlüftung (1=zu)', data: line(fensterB), borderColor: GREEN, borderWidth: 3, borderDash: [4, 4], order: 0 },
    { label: 'BZ Türe (1=zu)', data: line(tuerB), borderColor: ORANGE, borderWidth: 3, order: 1 },
    ...band('Zuluft', zuluftB, BLUE, 2, 2),
    ...band('Abluft', abluftB, RED, 4, 3)
], { ...speedOpts, top: 22, right: 1322 - 1095 });

makeChart('chartC', [
    { label: 'Aussen', data: line(feuchteAussen), borderColor: BLUE, borderWidth: 2.8, order: 0 },
    { label: 'BZ 1.OG-W', data: line(feuchteW), borderColor: GREEN, borderWidth: 2, order: 1 },
    { label: 'BZ 1.OG-O', data: line(feuchteO), borderColor: RED, borderWidth: 2, order: 2 }
], { yMin: 0, yMax: 100, yStep: 5, yMajor: 25, xHeight: 16, top: 16, right: 1322 - 1095, bottomTicks: true });

makeChart('chartD', [
    { label: 'Aussen', data: line(tempAussen), borderColor: BLUE, borderWidth: 2.8, order: 0 },
    { label: 'BZ 1.OG-W', data: line(tempW), borderColor: GREEN, borderWidth: 1.8, order: 1 },
    { label: 'BZ 1.OG-O', data: line(tempO), borderColor: RED, borderWidth: 1.8, order: 2 }
], { yMin: -5, yMax: 30, yStep: 1, yMajor: 5, xHeight: 46, top: 14, right: 1322 - 1095, bottomTicks: true, xLabels: true });
</script>
</body>
</html>
